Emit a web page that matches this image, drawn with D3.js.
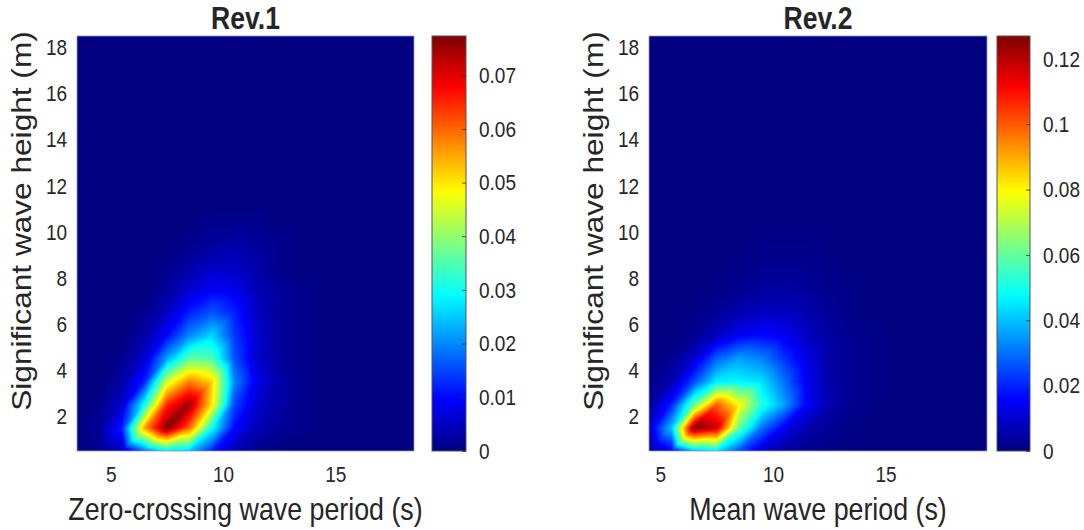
<!DOCTYPE html>
<html lang="en">
<head>
<meta charset="UTF-8">
<title>Wave scatter diagrams</title>
<script src="https://d3js.org/d3.v7.min.js"></script>
<style>
  body { margin: 0; background: #fff; }
  text { font-family: "Liberation Sans", Arial, Helvetica, sans-serif; fill: #262626; }
</style>
</head>
<body>
<div id="chart"></div>
<script>
// bin centres (s and m)
const rev1Periods = [3.5, 4.5, 5.5, 6.5, 7.5, 8.5, 9.5, 10.5, 11.5, 12.5, 13.5, 14.5, 15.5, 16.5, 17.5, 18.5];
const rev2Periods = [4.5, 5.5, 6.5, 7.5, 8.5, 9.5, 10.5, 11.5, 12.5, 13.5, 14.5, 15.5, 16.5, 17.5, 18.5, 19.5];
const heights = [0.5, 1.5, 2.5, 3.5, 4.5, 5.5, 6.5, 7.5, 8.5, 9.5, 10.5, 11.5, 12.5, 13.5, 14.5, 15.5, 16.5, 17.5, 18.5];

// probability per bin, one row per wave height (bottom row first)
const rev1 = [
  [0, .001, .004, .018, .028, .025, .012, .004, .001, 0, 0, 0, 0, 0, 0, 0],
  [0, .002, .012, .055, .0773, .060, .030, .010, .004, .002, .001, 0, 0, 0, 0, 0],
  [0, .001, .006, .030, .065, .075, .050, .015, .006, .003, .001, 0, 0, 0, 0, 0],
  [0, 0, .003, .012, .045, .058, .052, .020, .008, .003, .001, 0, 0, 0, 0, 0],
  [0, 0, .001, .006, .022, .036, .035, .016, .006, .002, .001, 0, 0, 0, 0, 0],
  [0, 0, 0, .003, .010, .020, .026, .014, .006, .002, .001, 0, 0, 0, 0, 0],
  [0, 0, 0, .001, .005, .012, .016, .012, .005, .002, .001, 0, 0, 0, 0, 0],
  [0, 0, 0, 0, .002, .006, .009, .008, .004, .002, .001, 0, 0, 0, 0, 0],
  [0, 0, 0, 0, .001, .003, .005, .005, .003, .001, 0, 0, 0, 0, 0, 0],
  [0, 0, 0, 0, 0, .001, .002, .003, .002, .001, 0, 0, 0, 0, 0, 0],
  [0, 0, 0, 0, 0, 0, .001, .001, .001, 0, 0, 0, 0, 0, 0, 0],
  [0, 0, 0, 0, 0, 0, 0, 0, 0, 0, 0, 0, 0, 0, 0, 0],
  [0, 0, 0, 0, 0, 0, 0, 0, 0, 0, 0, 0, 0, 0, 0, 0],
  [0, 0, 0, 0, 0, 0, 0, 0, 0, 0, 0, 0, 0, 0, 0, 0],
  [0, 0, 0, 0, 0, 0, 0, 0, 0, 0, 0, 0, 0, 0, 0, 0],
  [0, 0, 0, 0, 0, 0, 0, 0, 0, 0, 0, 0, 0, 0, 0, 0],
  [0, 0, 0, 0, 0, 0, 0, 0, 0, 0, 0, 0, 0, 0, 0, 0],
  [0, 0, 0, 0, 0, 0, 0, 0, 0, 0, 0, 0, 0, 0, 0, 0],
  [0, 0, 0, 0, 0, 0, 0, 0, 0, 0, 0, 0, 0, 0, 0, 0]
];
const rev2 = [
  [.002, .015, .040, .045, .025, .010, .004, .002, .001, 0, 0, 0, 0, 0, 0, 0],
  [.010, .040, .127, .118, .060, .030, .014, .006, .003, .001, 0, 0, 0, 0, 0, 0],
  [.003, .020, .060, .100, .080, .052, .036, .015, .006, .002, .001, 0, 0, 0, 0, 0],
  [.001, .006, .025, .046, .047, .044, .030, .014, .005, .002, .001, 0, 0, 0, 0, 0],
  [0, .002, .010, .028, .036, .032, .022, .012, .005, .002, .001, 0, 0, 0, 0, 0],
  [0, 0, .002, .008, .015, .017, .014, .008, .004, .002, .001, 0, 0, 0, 0, 0],
  [0, 0, .001, .003, .006, .008, .008, .006, .003, .001, 0, 0, 0, 0, 0, 0],
  [0, 0, 0, .001, .002, .004, .004, .003, .002, .001, 0, 0, 0, 0, 0, 0],
  [0, 0, 0, 0, .001, .002, .002, .002, .001, 0, 0, 0, 0, 0, 0, 0],
  [0, 0, 0, 0, 0, .001, .001, .001, 0, 0, 0, 0, 0, 0, 0, 0],
  [0, 0, 0, 0, 0, 0, 0, 0, 0, 0, 0, 0, 0, 0, 0, 0],
  [0, 0, 0, 0, 0, 0, 0, 0, 0, 0, 0, 0, 0, 0, 0, 0],
  [0, 0, 0, 0, 0, 0, 0, 0, 0, 0, 0, 0, 0, 0, 0, 0],
  [0, 0, 0, 0, 0, 0, 0, 0, 0, 0, 0, 0, 0, 0, 0, 0],
  [0, 0, 0, 0, 0, 0, 0, 0, 0, 0, 0, 0, 0, 0, 0, 0],
  [0, 0, 0, 0, 0, 0, 0, 0, 0, 0, 0, 0, 0, 0, 0, 0],
  [0, 0, 0, 0, 0, 0, 0, 0, 0, 0, 0, 0, 0, 0, 0, 0],
  [0, 0, 0, 0, 0, 0, 0, 0, 0, 0, 0, 0, 0, 0, 0, 0],
  [0, 0, 0, 0, 0, 0, 0, 0, 0, 0, 0, 0, 0, 0, 0, 0]
];

const xTicks = [5, 10, 15];
const yTicks = [2, 4, 6, 8, 10, 12, 14, 16, 18];
const rev1CbTicks = [0, 0.01, 0.02, 0.03, 0.04, 0.05, 0.06, 0.07];
const rev2CbTicks = [0, 0.02, 0.04, 0.06, 0.08, 0.1, 0.12];

const width = 1084, height = 530;
const plotTop = 36, plotBottom = 451;
const S = 1.18;          // the figure was exported slightly taller than wide
const tickSize = 19, labelSize = 26.8;

// matlab jet
function jet(t) {
  t = Math.max(0, Math.min(1, t));
  const c = v => Math.round(255 * Math.max(0, Math.min(1, v)));
  return [c(1.5 - Math.abs(4 * t - 3)), c(1.5 - Math.abs(4 * t - 2)), c(1.5 - Math.abs(4 * t - 1))];
}

const svg = d3.select("#chart").append("svg")
  .attr("width", width)
  .attr("height", height);

function styleTicks(axis, shiftY) {
  axis.select(".domain").remove();
  axis.selectAll("text")
    .attr("font-size", tickSize).attr("font-family", null).style("fill", "#262626")
    .attr("y", function() { return shiftY ? +this.getAttribute("y") / S : 0; })
    .attr("transform", `scale(1,${S})`);
}

const panels = [
  { title: "Rev.1", xlabel: "Zero-crossing wave period (s)", periods: rev1Periods, values: rev1,
    cbTicks: rev1CbTicks, left: 77, right: 414, cbLeft: 432, cbRight: 466 },
  { title: "Rev.2", xlabel: "Mean wave period (s)", periods: rev2Periods, values: rev2,
    cbTicks: rev2CbTicks, left: 649, right: 987, cbLeft: 997, cbRight: 1030 }
];

panels.forEach((p, k) => {
  const x = d3.scaleLinear().domain(d3.extent(p.periods)).range([p.left, p.right]);
  const y = d3.scaleLinear().domain(d3.extent(heights)).range([plotBottom, plotTop]);
  const cmax = d3.max(p.values, r => d3.max(r));
  const color = d3.scaleLinear().domain([0, cmax]).range([0, 1]).clamp(true);

  // surface, triangulated like matlab interp shading
  const w = p.right - p.left, h = plotBottom - plotTop;
  const canvas = document.createElement("canvas");
  canvas.width = w; canvas.height = h;
  const ctx = canvas.getContext("2d");
  const img = ctx.createImageData(w, h);
  const ix = d3.scaleLinear().domain(d3.extent(p.periods)).range([0, p.periods.length - 1]);
  const iy = d3.scaleLinear().domain(d3.extent(heights)).range([0, heights.length - 1]);
  for (let py = 0; py < h; py++) {
    const gy = iy(y.invert(plotTop + py + 0.5));
    const j = Math.min(Math.floor(gy), heights.length - 2), v = gy - j;
    for (let px = 0; px < w; px++) {
      const gx = ix(x.invert(p.left + px + 0.5));
      const i = Math.min(Math.floor(gx), p.periods.length - 2), u = gx - i;
      const v00 = p.values[j][i], v10 = p.values[j][i + 1];
      const v01 = p.values[j + 1][i], v11 = p.values[j + 1][i + 1];
      const val = u >= v
        ? v00 + u * (v10 - v00) + v * (v11 - v10)
        : v00 + v * (v01 - v00) + u * (v11 - v01);
      const rgb = jet(color(val));
      const o = (py * w + px) * 4;
      img.data[o] = rgb[0]; img.data[o + 1] = rgb[1]; img.data[o + 2] = rgb[2]; img.data[o + 3] = 255;
    }
  }
  ctx.putImageData(img, 0, 0);

  const g = svg.append("g");
  g.append("image")
    .attr("x", p.left).attr("y", plotTop)
    .attr("width", w).attr("height", h)
    .attr("href", canvas.toDataURL());
  g.append("rect")
    .attr("x", p.left).attr("y", plotTop).attr("width", w).attr("height", h)
    .attr("fill", "none").attr("stroke", "#9a9ab0").attr("stroke-width", 0.8);

  // axes
  const xAxis = g.append("g").attr("transform", `translate(0,${plotBottom})`)
    .call(d3.axisBottom(x).tickValues(xTicks).tickSize(0).tickPadding(15));
  styleTicks(xAxis, true);
  const yAxis = g.append("g").attr("transform", `translate(${p.left},0)`)
    .call(d3.axisLeft(y).tickValues(yTicks).tickSize(0).tickPadding(10));
  styleTicks(yAxis, false);

  g.append("text")
    .attr("transform", `translate(${(p.left + p.right) / 2},29) scale(1,${S})`)
    .attr("text-anchor", "middle")
    .attr("font-size", 26.6).attr("font-weight", "bold")
    .text(p.title);
  g.append("text")
    .attr("transform", `translate(${(p.left + p.right) / 2},520) scale(1,${S})`)
    .attr("text-anchor", "middle")
    .attr("font-size", labelSize)
    .text(p.xlabel);
  g.append("text")
    .attr("transform", `translate(${p.left - 46},221) rotate(-90) scale(${S},1)`)
    .attr("text-anchor", "middle")
    .attr("font-size", labelSize)
    .text("Significant wave height (m)");

  // colorbar
  const cb = d3.scaleLinear().domain([0, cmax]).range([plotBottom, plotTop]);
  const gradId = "jet" + k;
  const grad = svg.append("defs").append("linearGradient")
    .attr("id", gradId).attr("x1", 0).attr("y1", 1).attr("x2", 0).attr("y2", 0);
  d3.range(0, 1.0001, 0.02).forEach(t => {
    const c = jet(t);
    grad.append("stop").attr("offset", t).attr("stop-color", `rgb(${c[0]},${c[1]},${c[2]})`);
  });
  g.append("rect")
    .attr("x", p.cbLeft).attr("y", plotTop)
    .attr("width", p.cbRight - p.cbLeft).attr("height", h)
    .attr("fill", `url(#${gradId})`)
    .attr("stroke", "#555").attr("stroke-width", 1);
  const cbAxis = g.append("g").attr("transform", `translate(${p.cbRight},0)`)
    .call(d3.axisRight(cb).tickValues(p.cbTicks).tickSize(-4).tickPadding(13).tickFormat(d => String(d)));
  cbAxis.selectAll("line").attr("stroke", "#333").attr("stroke-width", 0.8);
  styleTicks(cbAxis, false);
});
</script>
</body>
</html>
